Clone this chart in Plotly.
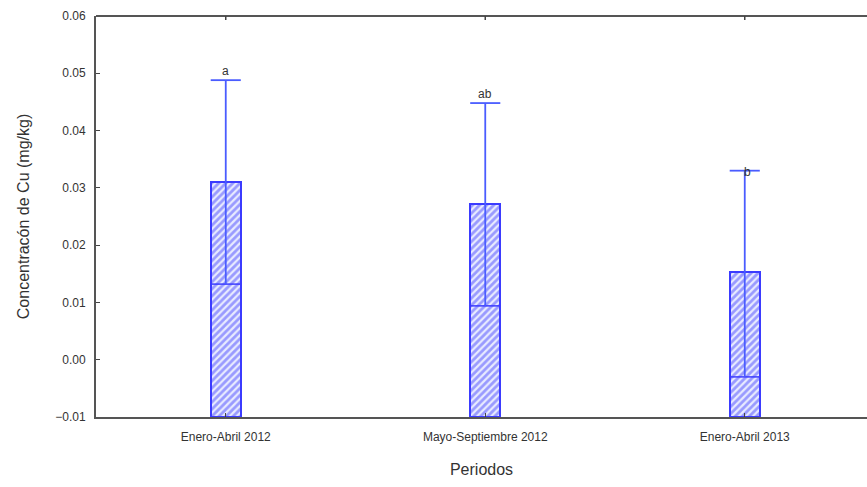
import plotly.graph_objects as go

categories = ["Enero-Abril 2012", "Mayo-Septiembre 2012", "Enero-Abril 2013"]
box_top = [0.0310, 0.0272, 0.0153]
mean_vals = [0.0132, 0.0094, -0.0030]
whisker_top = [0.0488, 0.0448, 0.0330]
letters = ["a", "ab", "b"]
y_ticks = [-0.01, 0.00, 0.01, 0.02, 0.03, 0.04, 0.05, 0.06]

y_min, y_max = -0.01, 0.06
bw = 0.116
blue = "#3b3bff"
xs = list(range(len(categories)))

fig = go.Figure()

fig.add_trace(go.Bar(
    x=xs, y=[t - y_min for t in box_top], base=[y_min] * len(xs), width=bw,
    marker=dict(color="#e2e6ff", line=dict(color=blue, width=2),
                pattern=dict(shape="/", fgcolor="#4a4aff", bgcolor="#e8ebff", size=5, solidity=0.55)),
    showlegend=False, hoverinfo="skip"))

# mean lines
mx, my = [], []
for i, m in zip(xs, mean_vals):
    mx += [i - bw / 2, i + bw / 2, None]
    my += [m, m, None]
fig.add_trace(go.Scatter(x=mx, y=my, mode="lines", line=dict(color=blue, width=1.5),
                         showlegend=False, hoverinfo="skip"))

# vertical whisker line from mean to whisker top
vx, vy = [], []
for i, m, w in zip(xs, mean_vals, whisker_top):
    vx += [i, i, None]
    vy += [m, w, None]
fig.add_trace(go.Scatter(x=vx, y=vy, mode="lines", line=dict(color="#4a5cff", width=1.8),
                         showlegend=False, hoverinfo="skip"))

# caps
cx, cy = [], []
for i, w in zip(xs, whisker_top):
    cx += [i - bw / 2, i + bw / 2, None]
    cy += [w, w, None]
fig.add_trace(go.Scatter(x=cx, y=cy, mode="lines", line=dict(color="#4a5cff", width=1.8),
                         showlegend=False, hoverinfo="skip"))

# letters
for i, w, t in zip(xs, whisker_top, letters):
    if t == "b":
        fig.add_annotation(x=i, y=w, text=t, showarrow=False, xanchor="left", yanchor="middle",
                           xshift=-3, yshift=-1, font=dict(size=12, color="#333333"))
    else:
        fig.add_annotation(x=i, y=w, text=t, showarrow=False, yanchor="bottom", yshift=0,
                           font=dict(size=12, color="#333333"))

# top frame line and top ticks
fig.add_shape(type="line", xref="paper", yref="paper", x0=0, x1=1.01, y0=1, y1=1,
              line=dict(color="#555555", width=2))
for i in xs:
    fig.add_shape(type="line", xref="x", yref="paper", x0=i, x1=i, y0=1, y1=0.99,
                  line=dict(color="#444444", width=1.5))

x_range = [-0.5, -0.5 + 771 / 259.5]

fig.update_layout(
    width=867, height=487,
    margin=dict(l=96, r=0, t=16, b=70),
    paper_bgcolor="white", plot_bgcolor="white",
    font=dict(family="Liberation Sans, Arial, sans-serif", color="#333333"),
    xaxis=dict(range=x_range, tickvals=xs, ticktext=categories, showline=True,
               linecolor="#555555", linewidth=2, ticks="inside", ticklen=4, tickcolor="#444444",
               showgrid=False, zeroline=False, tickfont=dict(size=12), ticklabelstandoff=8,
               title=dict(text="Periodos", font=dict(size=16), standoff=20)),
    yaxis=dict(range=[y_min, y_max], tickvals=y_ticks, tickformat=".2f", showline=True,
               linecolor="#555555", linewidth=2, ticks="inside", ticklen=4, tickcolor="#444444",
               showgrid=False, zeroline=False, tickfont=dict(size=12), ticklabelstandoff=6,
               title=dict(text="Concentracón de Cu (mg/kg)", font=dict(size=16), standoff=22)),
    bargap=0,
)

fig.write_html("out.html")
